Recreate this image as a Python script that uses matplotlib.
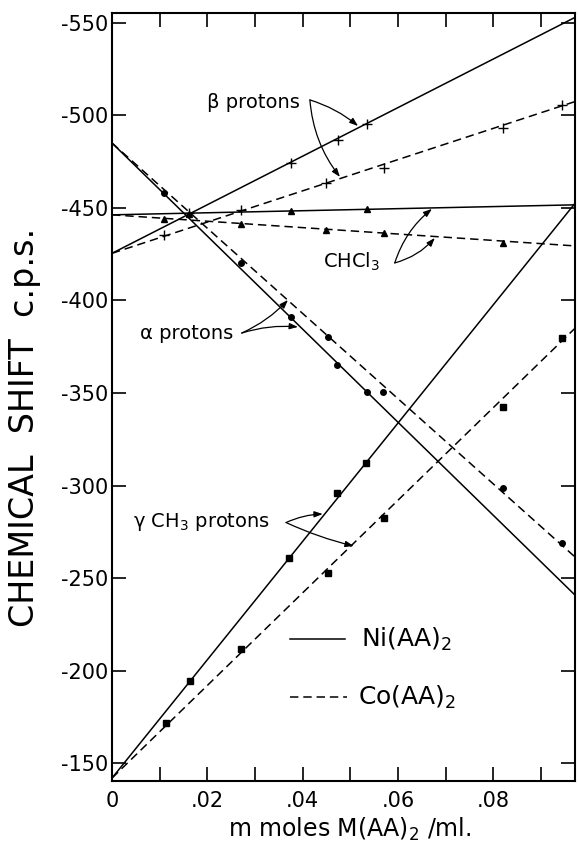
import matplotlib.pyplot as plt
from matplotlib.ticker import MultipleLocator

plt.rcParams['font.family'] = 'DejaVu Sans'
plt.rcParams['axes.unicode_minus'] = False

# fitted straight lines, read at x = 0 and at the right edge
line_x = [0.0, 0.0971]
beta_ni_line = [-425.5, -553.0]
beta_co_line = [-425.5, -507.5]
chcl3_ni_line = [-446.3, -451.7]
chcl3_co_line = [-446.3, -429.5]
alpha_ni_line = [-485.1, -240.8]
alpha_co_line = [-485.1, -261.4]
gamma_ni_line = [-141.9, -452.5]
gamma_co_line = [-141.9, -385.0]

# measured points, Ni(AA)2
beta_ni_x = [0.0161, 0.0375, 0.0474, 0.0535]
beta_ni_y = [-447.3, -474.3, -486.8, -495.4]
chcl3_ni_x = [0.0161, 0.0375, 0.0535]
chcl3_ni_y = [-447.0, -448.4, -449.5]
alpha_ni_x = [0.0375, 0.0472, 0.0535]
alpha_ni_y = [-391.1, -365.1, -350.5]
gamma_ni_x = [0.0164, 0.0371, 0.0472, 0.0532]
gamma_ni_y = [-194.3, -260.8, -296.0, -312.2]

# measured points, Co(AA)2
beta_co_x = [0.0109, 0.0270, 0.0449, 0.0570, 0.0820, 0.0943]
beta_co_y = [-435.4, -448.9, -463.5, -471.6, -493.2, -505.7]
chcl3_co_x = [0.0109, 0.0270, 0.0449, 0.0570, 0.0820]
chcl3_co_y = [-444.1, -441.4, -438.2, -436.6, -431.1]
alpha_co_x = [0.0109, 0.0270, 0.0453, 0.0568, 0.0820, 0.0943]
alpha_co_y = [-458.1, -420.3, -380.3, -350.5, -298.6, -268.9]
gamma_co_x = [0.0113, 0.0270, 0.0453, 0.0570, 0.0820, 0.0943]
gamma_co_y = [-171.6, -211.6, -252.7, -282.4, -342.4, -379.7]

x_ticks = [0, 0.02, 0.04, 0.06, 0.08]
x_tick_labels = ['0', '.02', '.04', '.06', '.08']
y_ticks = [-550, -500, -450, -400, -350, -300, -250, -200, -150]

fig = plt.figure(figsize=(5.78, 8.47), dpi=100)
ax = fig.add_axes([0.1938, 0.0779, 0.801, 0.9068])

solid = dict(color='black', lw=1.1)
dashed = dict(color='black', lw=1.1, dashes=(5.5, 3.2))

for ys in [beta_ni_line, chcl3_ni_line, alpha_ni_line, gamma_ni_line]:
    ax.plot(line_x, ys, **solid)
for ys in [beta_co_line, chcl3_co_line, alpha_co_line, gamma_co_line]:
    ax.plot(line_x, ys, **dashed)

ax.plot(beta_ni_x, beta_ni_y, '+', color='k', ms=7, mew=1.0)
ax.plot(beta_co_x, beta_co_y, '+', color='k', ms=7, mew=1.0)
ax.plot(chcl3_ni_x, chcl3_ni_y, '^', color='k', ms=4.5)
ax.plot(chcl3_co_x, chcl3_co_y, '^', color='k', ms=4.5)
ax.plot(alpha_ni_x, alpha_ni_y, 'o', color='k', ms=4)
ax.plot(alpha_co_x, alpha_co_y, 'o', color='k', ms=4)
ax.plot(gamma_ni_x, gamma_ni_y, 's', color='k', ms=4.5)
ax.plot(gamma_co_x, gamma_co_y, 's', color='k', ms=4.5)

# labels with arrows
arrow = dict(arrowstyle='-|>,head_length=0.5,head_width=0.18', color='k', lw=0.9,
             shrinkA=0, shrinkB=0)
ax.text(0.0199, -506.8, 'β protons', fontsize=14, va='center')
ax.annotate('', xy=(0.0516, -494.3), xytext=(0.0415, -508.4),
            arrowprops=dict(arrow, connectionstyle='arc3,rad=-0.1'))
ax.annotate('', xy=(0.0478, -466.8), xytext=(0.0415, -508.4),
            arrowprops=dict(arrow, connectionstyle='arc3,rad=0.15'))

ax.text(0.0442, -420.8, 'CHCl$_3$', fontsize=14, va='center')
ax.annotate('', xy=(0.0671, -449.5), xytext=(0.0593, -420.3),
            arrowprops=dict(arrow, connectionstyle='arc3,rad=-0.15'))
ax.annotate('', xy=(0.0677, -433.8), xytext=(0.0593, -420.3),
            arrowprops=dict(arrow, connectionstyle='arc3,rad=0.15'))

ax.text(0.0059, -382.4, 'α protons', fontsize=14, va='center')
ax.annotate('', xy=(0.0369, -400.3), xytext=(0.0272, -382.4),
            arrowprops=dict(arrow, connectionstyle='arc3,rad=0.1'))
ax.annotate('', xy=(0.0390, -385.7), xytext=(0.0272, -382.4),
            arrowprops=dict(arrow, connectionstyle='arc3,rad=-0.1'))

ax.text(0.0044, -280.3, 'γ CH$_3$ protons', fontsize=14, va='center')
ax.annotate('', xy=(0.0442, -284.6), xytext=(0.0365, -280.0),
            arrowprops=dict(arrow, connectionstyle='arc3,rad=-0.1'))
ax.annotate('', xy=(0.0507, -267.3), xytext=(0.0365, -280.0),
            arrowprops=dict(arrow, connectionstyle='arc3,rad=0.05'))

# legend drawn inside the axes
ax.plot([0.0373, 0.0488], [-217, -217], **solid)
ax.text(0.0522, -217, 'Ni(AA)$_2$', fontsize=18, va='center')
ax.plot([0.0373, 0.0492], [-185.7, -185.7], **dashed)
ax.text(0.0515, -185.7, 'Co(AA)$_2$', fontsize=18, va='center')

ax.set_xlim(0, 0.0971)
ax.set_ylim(-140.3, -555.4)
ax.set_xticks(x_ticks)
ax.set_xticklabels(x_tick_labels)
ax.xaxis.set_minor_locator(MultipleLocator(0.01))
ax.set_yticks(y_ticks)
ax.tick_params(which='both', direction='in', top=True, right=True,
               width=1.2, length=10)
ax.tick_params(axis='y', labelsize=15, pad=3)
ax.tick_params(axis='x', labelsize=15, pad=7)
for s in ax.spines.values():
    s.set_linewidth(1.5)

ax.set_xlabel('m moles M(AA)$_2$ /ml.', fontsize=17)
ax.xaxis.set_label_coords(0.514, -0.045)
fig.text(25 / 578, 1 - 427 / 847, 'CHEMICAL  SHIFT  c.p.s.', fontsize=24,
         rotation=90, ha='center', va='center')

fig.savefig('out.png', dpi=100)
